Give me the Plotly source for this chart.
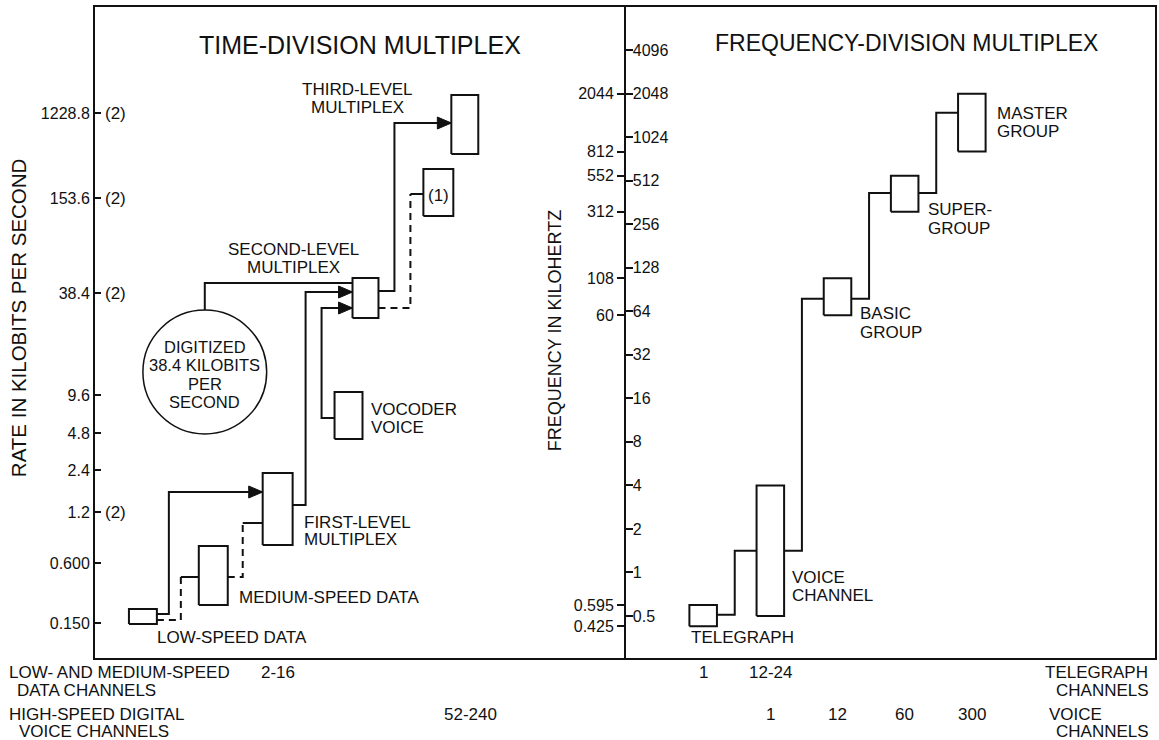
import numpy as np
import plotly.graph_objects as go

FONT = "Liberation Sans"
INK = "#111111"

# ---------------- Time-division multiplex (left panel, schematic level scale) ----------------
RATE_TICK_TEXT = ["0.150", "0.600", "1.2", "2.4", "4.8", "9.6", "38.4", "153.6", "1228.8"]
RATE_TICK_LEVEL = [35, 95, 146, 188, 225, 263, 365, 460, 545]
RATE_TICK_NOTE = ["", "", "(2)", "", "", "", "(2)", "(2)", "(2)"]

TDM_BOX_NAME = ["low", "medium", "first", "vocoder", "second", "aux", "third"]
TDM_BOX_X0 = [34, 104, 168, 240, 258, 329, 357]
TDM_BOX_X1 = [62, 133, 198, 268, 284, 359, 384]
TDM_BOX_LO = [34, 53, 113, 219, 340, 442, 504]
TDM_BOX_HI = [49, 112, 185, 266, 380, 489, 563]

# step connectors: start x, exit level, riser x, entry level, end x
TDM_LINK_X_START = [62, 62, 133, 198, 240, 110, 284, 284]
TDM_LINK_EXIT = [44, 38, 81, 153, 240, 348, 367, 350]
TDM_LINK_RISER = [74, 86, 148, 211, 227, 110, 300, 316]
TDM_LINK_ENTRY = [166, 81, 135, 366, 350, 375, 535, 464]
TDM_LINK_X_END = [168, 104, 168, 258, 258, 258, 357, 329]
TDM_LINK_DASHED = [False, True, True, False, False, False, False, True]
TDM_LINK_ARROW = [True, False, False, True, True, False, True, False]

CIRCLE_X = [48, 172]
CIRCLE_LEVEL = [224, 348]

# ---------------- Frequency-division multiplex (right panel, log kHz) ----------------
FREQ_TICK_RIGHT = [0.5, 1, 2, 4, 8, 16, 32, 64, 128, 256, 512, 1024, 2048, 4096]
FREQ_TICK_LEFT = [0.425, 0.595, 60, 108, 312, 552, 812, 2044]
FDM_NAME = ["TELEGRAPH", "VOICE CHANNEL", "BASIC GROUP", "SUPERGROUP", "MASTER GROUP"]
FDM_COL = [1, 2, 3, 4, 5]
FDM_LOW = [0.425, 0.5, 60, 312, 812]
FDM_HIGH = [0.595, 4, 108, 552, 2044]
FDM_LINK = [0.51, 1.41, 78, 421, 1510]
FDM_HALF_W = 0.205
FDM_RISER = 0.47

# ---------------- Channel counts ----------------
TDM_DATA_COUNT = ("2-16", "first")
TDM_VOICE_COUNT = ("52-240", "third")
FDM_TELEGRAPH_COUNT = ["1", "12-24"]
FDM_TELEGRAPH_COL = [1, 2]
FDM_VOICE_COUNT = ["1", "12", "60", "300"]
FDM_VOICE_COL = [2, 3, 4, 5]

LEFT_X_RANGE = [0, 532]
LEVEL_RANGE = [0, 651]
RIGHT_X_RANGE = [-0.149, 7.727]
FREQ_RANGE = [0.2562, 8118]
PLOT_W = 1062

split = (LEFT_X_RANGE[1] - LEFT_X_RANGE[0]) / PLOT_W


def px_left(v):
    return (v - LEFT_X_RANGE[0]) / (LEFT_X_RANGE[1] - LEFT_X_RANGE[0]) * split


def px_right(c):
    return split + (c - RIGHT_X_RANGE[0]) / (RIGHT_X_RANGE[1] - RIGHT_X_RANGE[0]) * (1 - split)


def py_level(l):
    return (l - LEVEL_RANGE[0]) / (LEVEL_RANGE[1] - LEVEL_RANGE[0])


fig = go.Figure()


def add_box(x0, x1, lo, hi, xa, ya):
    fig.add_trace(go.Scatter(x=[x0, x1, x1, x0, x0], y=[lo, lo, hi, hi, lo], mode="lines",
                             fill="toself", fillcolor="white", line=dict(color=INK, width=2),
                             xaxis=xa, yaxis=ya, hoverinfo="skip", showlegend=False))


def add_line(xs, ys, xa, ya, dashed=False):
    fig.add_trace(go.Scatter(x=xs, y=ys, mode="lines",
                             line=dict(color=INK, width=2, dash="7px,5px" if dashed else "solid"),
                             xaxis=xa, yaxis=ya, hoverinfo="skip", showlegend=False))


# left panel connectors
for xs, e0, xr, e1, xe, dashed, arrow in zip(TDM_LINK_X_START, TDM_LINK_EXIT, TDM_LINK_RISER,
                                            TDM_LINK_ENTRY, TDM_LINK_X_END, TDM_LINK_DASHED, TDM_LINK_ARROW):
    if dashed:
        add_line([xs, xr, xr], [e0, e0, e1], "x", "y", dashed=True)
        add_line([xr, xe], [e1, e1], "x", "y")
    else:
        add_line([xs, xr, xr, xe], [e0, e0, e1, e1], "x", "y")
    if arrow:
        fig.add_trace(go.Scatter(x=[xe - 14, xe, xe - 14, xe - 14], y=[e1 + 6, e1, e1 - 6, e1 + 6],
                                 mode="lines", fill="toself", fillcolor=INK, line=dict(color=INK, width=1),
                                 xaxis="x", yaxis="y", hoverinfo="skip", showlegend=False))

for x0, x1, lo, hi in zip(TDM_BOX_X0, TDM_BOX_X1, TDM_BOX_LO, TDM_BOX_HI):
    add_box(x0, x1, lo, hi, "x", "y")

# right panel connectors and boxes
for i in range(len(FDM_COL) - 1):
    xs = FDM_COL[i] + FDM_HALF_W
    xr = FDM_COL[i] + FDM_RISER
    xe = FDM_COL[i + 1] - FDM_HALF_W
    add_line([xs, xr, xr, xe], [FDM_LINK[i], FDM_LINK[i], FDM_LINK[i + 1], FDM_LINK[i + 1]], "x2", "y2")
for c, lo, hi in zip(FDM_COL, FDM_LOW, FDM_HIGH):
    add_box(c - FDM_HALF_W, c + FDM_HALF_W, lo, hi, "x2", "y2")

# invisible trace to activate overlay axis
fig.add_trace(go.Scatter(x=[FDM_COL[0]], y=[FDM_LOW[0]], mode="markers", marker=dict(opacity=0),
                         xaxis="x2", yaxis="y3", hoverinfo="skip", showlegend=False))

shapes = [dict(type="circle", xref="x", yref="y", x0=CIRCLE_X[0], x1=CIRCLE_X[1],
               y0=CIRCLE_LEVEL[0], y1=CIRCLE_LEVEL[1], line=dict(color=INK, width=1.5),
               fillcolor="white", layer="above")]

annotations = []


def label(lines, x, y, panel, anchor="left", gap=18, size=17, angle=0):
    conv = px_left if panel == "L" else px_right
    for i, t in enumerate(lines):
        annotations.append(dict(text=t, x=conv(x), y=py_level(y - i * gap), xref="paper", yref="paper",
                                xanchor=anchor, yanchor="middle", showarrow=False, textangle=angle,
                                font=dict(family=FONT, size=size, color=INK)))


# tick notes
for lvl, note in zip(RATE_TICK_LEVEL, RATE_TICK_NOTE):
    if note:
        label([note], 8, lvl, "L")

box_center = {n: (a + b) / 2 for n, a, b in zip(TDM_BOX_NAME, TDM_BOX_X0, TDM_BOX_X1)}

# left panel texts
label(["TIME-DIVISION MULTIPLEX"], 265, 613, "L", anchor="center", size=25)
label(["THIRD-LEVEL", "MULTIPLEX"], 263, 568, "L", anchor="center", gap=17)
label(["SECOND-LEVEL", "MULTIPLEX"], 199, 409, "L", anchor="center", gap=18)
label(["DIGITIZED", "38.4 KILOBITS", "PER", "SECOND"], 110, 311, "L", anchor="center", gap=18.3, size=16.5)
label(["(1)"], box_center["aux"], 463, "L", anchor="center")
label(["VOCODER", "VOICE"], 275, 249, "L", gap=18)
label(["FIRST-LEVEL", "MULTIPLEX"], 207, 136, "L", gap=17)
label(["MEDIUM-SPEED DATA"], 142, 61, "L")
label(["LOW-SPEED DATA"], 60, 21, "L")
label(["RATE IN KILOBITS PER SECOND"], -77, 340, "L", anchor="center", size=20.5, angle=-90)
label(["FREQUENCY IN KILOHERTZ"], 461, 327, "L", anchor="center", size=18, angle=-90)

# right panel texts
label(["FREQUENCY-DIVISION MULTIPLEX"], 4.03, 615, "R", anchor="center", size=23)
label(["MASTER", "GROUP"], 5.35, 545, "R", gap=18)
label(["SUPER-", "GROUP"], 4.32, 448, "R", gap=19)
label(["BASIC", "GROUP"], 3.31, 345, "R", gap=19)
label(["VOICE", "CHANNEL"], 2.30, 81, "R", gap=18)
label(["TELEGRAPH"], 0.79, 21, "R")

# channel-count rows below the frame
label(["LOW- AND MEDIUM-SPEED"], -88, -14, "L")
label(["DATA CHANNELS"], -80, -32, "L")
label(["HIGH-SPEED DIGITAL"], -88, -56, "L")
label(["VOICE CHANNELS"], -78, -73, "L")
label([TDM_DATA_COUNT[0]], box_center[TDM_DATA_COUNT[1]], -14, "L", anchor="center")
label([TDM_VOICE_COUNT[0]], box_center[TDM_VOICE_COUNT[1]] + 6, -56, "L", anchor="center")
for t, c in zip(FDM_TELEGRAPH_COUNT, FDM_TELEGRAPH_COL):
    label([t], c, -14, "R", anchor="center")
for t, c in zip(FDM_VOICE_COUNT, FDM_VOICE_COL):
    label([t], c, -56, "R", anchor="center")
label(["TELEGRAPH"], 7.65, -14, "R", anchor="right")
label(["CHANNELS"], 7.67, -32, "R", anchor="right")
label(["VOICE"], 6.12, -56, "R")
label(["CHANNELS"], 7.67, -73, "R", anchor="right")

common = dict(showgrid=False, zeroline=False, linecolor=INK, linewidth=2, showline=True,
              tickcolor=INK, tickfont=dict(family=FONT, size=16, color=INK))

fig.update_layout(
    width=1159, height=740,
    margin=dict(l=95, r=2, t=7, b=82),
    paper_bgcolor="white", plot_bgcolor="white",
    font=dict(family=FONT, color=INK),
    showlegend=False,
    xaxis=dict(domain=[0, split], range=LEFT_X_RANGE, showticklabels=False, ticks="", mirror=True, **common),
    yaxis=dict(range=LEVEL_RANGE, tickmode="array", tickvals=RATE_TICK_LEVEL, ticktext=RATE_TICK_TEXT,
               ticks="inside", ticklen=6, tickwidth=1.5, mirror=False, **common),
    xaxis2=dict(domain=[split, 1], range=RIGHT_X_RANGE, anchor="y2", showticklabels=False, ticks="",
                mirror=True, **common),
    yaxis2=dict(type="log", range=[np.log10(FREQ_RANGE[0]), np.log10(FREQ_RANGE[1])], anchor="x2",
                tickmode="array", tickvals=FREQ_TICK_LEFT, ticktext=[f"{v:g}" for v in FREQ_TICK_LEFT],
                ticks="outside", ticklen=7, tickwidth=1.5, mirror=True, **common),
    yaxis3=dict(type="log", range=[np.log10(FREQ_RANGE[0]), np.log10(FREQ_RANGE[1])], anchor="x2",
                overlaying="y2", side="left", tickmode="array", tickvals=FREQ_TICK_RIGHT,
                ticktext=[f"{v:g}" for v in FREQ_TICK_RIGHT], ticks="inside", ticklen=7, tickwidth=1.5,
                ticklabelposition="inside", showgrid=False, zeroline=False, showline=False,
                tickcolor=INK, tickfont=dict(family=FONT, size=16, color=INK)),
    shapes=shapes,
    annotations=annotations,
)

fig.write_html("out.html", config={"displayModeBar": False},
               post_script="document.body.style.margin='0px';")
